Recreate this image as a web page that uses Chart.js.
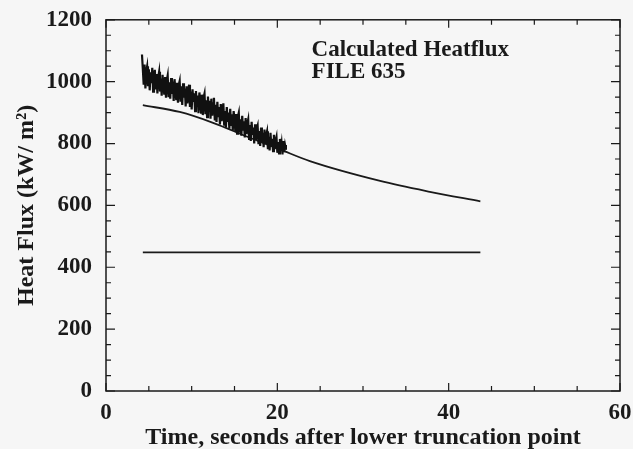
<!DOCTYPE html>
<html>
<head>
<meta charset="utf-8">
<script src="https://cdn.jsdelivr.net/npm/chart.js@4.4.0/dist/chart.umd.min.js"></script>
<style>
  html, body { margin: 0; padding: 0; background: #f6f6f6; }
  #wrap { width: 633px; height: 449px; position: relative; }
</style>
</head>
<body>
<div id="wrap"><canvas id="heatChart"></canvas></div>
<script>
// ---- DATA ----
const measuredTime = [
  4.2, 4.3, 4.4, 4.5, 4.6, 4.7, 4.8, 4.9, 5.0, 5.1,
  5.2, 5.3, 5.4, 5.5, 5.6, 5.7, 5.8, 5.9, 6.0, 6.1,
  6.2, 6.3, 6.4, 6.5, 6.6, 6.7, 6.8, 6.9, 7.0, 7.1,
  7.2, 7.3, 7.4, 7.5, 7.6, 7.7, 7.8, 7.9, 8.0, 8.1,
  8.2, 8.3, 8.4, 8.5, 8.6, 8.7, 8.8, 8.9, 9.0, 9.1,
  9.2, 9.3, 9.4, 9.5, 9.6, 9.7, 9.8, 9.9, 10.0, 10.1,
  10.2, 10.3, 10.4, 10.5, 10.6, 10.7, 10.8, 10.9, 11.0, 11.1,
  11.2, 11.3, 11.4, 11.5, 11.6, 11.7, 11.8, 11.9, 12.0, 12.1,
  12.2, 12.3, 12.4, 12.5, 12.6, 12.7, 12.8, 12.9, 13.0, 13.1,
  13.2, 13.3, 13.4, 13.5, 13.6, 13.7, 13.8, 13.9, 14.0, 14.1,
  14.2, 14.3, 14.4, 14.5, 14.6, 14.7, 14.8, 14.9, 15.0, 15.1,
  15.2, 15.3, 15.4, 15.5, 15.6, 15.7, 15.8, 15.9, 16.0, 16.1,
  16.2, 16.3, 16.4, 16.5, 16.6, 16.7, 16.8, 16.9, 17.0, 17.1,
  17.2, 17.3, 17.4, 17.5, 17.6, 17.7, 17.8, 17.9, 18.0, 18.1,
  18.2, 18.3, 18.4, 18.5, 18.6, 18.7, 18.8, 18.9, 19.0, 19.1,
  19.2, 19.3, 19.4, 19.5, 19.6, 19.7, 19.8, 19.9, 20.0, 20.1,
  20.2, 20.3, 20.4, 20.5, 20.6, 20.7, 20.8, 20.9, 21.0];
const measuredFlux = [
  1088, 1040, 990, 1055, 978, 1035, 1050, 985, 1040, 972,
  1030, 995, 1045, 968, 1020, 1038, 975, 1025, 962, 1015,
  1032, 968, 1010, 955, 1022, 990, 958, 1015, 948, 1005,
  1020, 950, 998, 945, 1012, 960, 1000, 938, 1008, 975,
  940, 996, 932, 990, 1002, 935, 985, 925, 995, 948,
  978, 920, 985, 930, 972, 990, 918, 968, 910, 975,
  935, 962, 905, 970, 918, 955, 898, 965, 942, 900,
  958, 892, 950, 962, 895, 940, 885, 952, 905, 938,
  880, 945, 890, 930, 948, 875, 925, 870, 935, 885,
  918, 862, 928, 872, 912, 930, 858, 905, 852, 918,
  870, 900, 848, 912, 860, 895, 842, 905, 880, 838,
  895, 832, 888, 900, 835, 878, 825, 890, 845, 872,
  820, 882, 830, 865, 878, 815, 860, 808, 870, 828,
  852, 800, 862, 812, 848, 858, 798, 840, 792, 852,
  805, 835, 788, 845, 798, 828, 840, 782, 822, 778,
  835, 790, 815, 775, 828, 782, 810, 822, 770, 805,
  768, 815, 778, 800, 765, 808, 772, 795, 780];

const calcTime = [4.3, 8.6, 12.5, 16.5, 20.3, 23.8, 32.0, 37.8, 43.7];
const calcFlux = [924, 902, 867, 822, 781, 743, 679, 644, 613];

const baseTime = [4.3, 43.7];
const baseFlux = [448, 448];

const xTickValues = [0, 20, 40, 60];
const yTickValues = [0, 200, 400, 600, 800, 1000, 1200];
const noteLines = ['Calculated Heatflux', 'FILE 635'];

const ink = '#1a1a1a';
const serif = "'Liberation Serif', 'DejaVu Serif', serif";

function pairs(xs, ys){
  return xs.map((x, i) => ({ x: x, y: ys[i] }));
}

// ---- FRAME, INWARD TICKS AND NOTE ----
const framePlugin = {
  id: 'frame',
  afterDraw(chart){
    const ctx = chart.ctx;
    const a = chart.chartArea;
    const xs = chart.scales.x, ys = chart.scales.y;
    ctx.save();
    ctx.strokeStyle = ink;
    ctx.lineWidth = 1.5;
    ctx.strokeRect(a.left, a.top, a.right - a.left, a.bottom - a.top);
    ctx.lineWidth = 1.2;
    ctx.beginPath();
    for (let v = xs.min; v <= xs.max; v += 5){
      const px = xs.getPixelForValue(v);
      const len = v % 20 === 0 ? 8 : 5;
      ctx.moveTo(px, a.bottom); ctx.lineTo(px, a.bottom - len);
      ctx.moveTo(px, a.top); ctx.lineTo(px, a.top + len);
    }
    for (let v = ys.min; v <= ys.max; v += 50){
      const py = ys.getPixelForValue(v);
      const len = v % 200 === 0 ? 9 : 5;
      ctx.moveTo(a.left, py); ctx.lineTo(a.left + len, py);
      ctx.moveTo(a.right, py); ctx.lineTo(a.right - len, py);
    }
    ctx.stroke();

    ctx.fillStyle = ink;
    ctx.font = 'bold 23px ' + serif;
    ctx.textBaseline = 'alphabetic';
    ctx.fillText(noteLines[0], xs.getPixelForValue(24.0), ys.getPixelForValue(1083));
    ctx.fillText(noteLines[1], xs.getPixelForValue(24.0), ys.getPixelForValue(1013));
    ctx.restore();
  }
};

// ---- CHART ----
const ctx = document.getElementById('heatChart').getContext('2d');
new Chart(ctx, {
  type: 'line',
  data: {
    datasets: [
      {
        label: 'Measured',
        data: pairs(measuredTime, measuredFlux),
        borderColor: '#111',
        borderWidth: 2.2,
        pointRadius: 0,
        tension: 0
      },
      {
        label: 'Calculated',
        data: pairs(calcTime, calcFlux),
        borderColor: ink,
        borderWidth: 1.8,
        pointRadius: 0,
        cubicInterpolationMode: 'monotone'
      },
      {
        label: 'Base',
        data: pairs(baseTime, baseFlux),
        borderColor: ink,
        borderWidth: 1.8,
        pointRadius: 0
      }
    ]
  },
  options: {
    responsive: true,
    maintainAspectRatio: false,
    animation: false,
    layout: { padding: { top: 12, right: 13, left: 0, bottom: 0 } },
    plugins: {
      legend: { display: false },
      tooltip: { enabled: false }
    },
    scales: {
      x: {
        type: 'linear',
        min: 0, max: 60,
        afterFit(scale){ scale.height = 58; },
        afterBuildTicks(scale){ scale.ticks = xTickValues.map(v => ({ value: v })); },
        grid: { display: false },
        border: { display: false },
        ticks: {
          color: ink, padding: 0, maxRotation: 0,
          callback: v => String(v),
          font: { family: serif, size: 23, weight: 'bold' }
        },
        title: {
          display: true,
          text: 'Time, seconds after lower truncation point',
          color: ink,
          padding: { top: 0, bottom: -3 },
          font: { family: serif, size: 24, weight: 'bold' }
        }
      },
      y: {
        type: 'linear',
        min: 0, max: 1200,
        afterFit(scale){ scale.width = 106; },
        afterBuildTicks(scale){ scale.ticks = yTickValues.map(v => ({ value: v })); },
        grid: { display: false },
        border: { display: false },
        ticks: {
          color: ink, padding: 6,
          callback: v => String(v),
          font: { family: serif, size: 23, weight: 'bold' }
        },
        title: {
          display: true,
          text: 'Heat Flux (kW/ m²)',
          color: ink,
          padding: { top: 12, bottom: 0 },
          font: { family: serif, size: 24, weight: 'bold' }
        }
      }
    }
  },
  plugins: [framePlugin]
});
</script>
</body>
</html>
